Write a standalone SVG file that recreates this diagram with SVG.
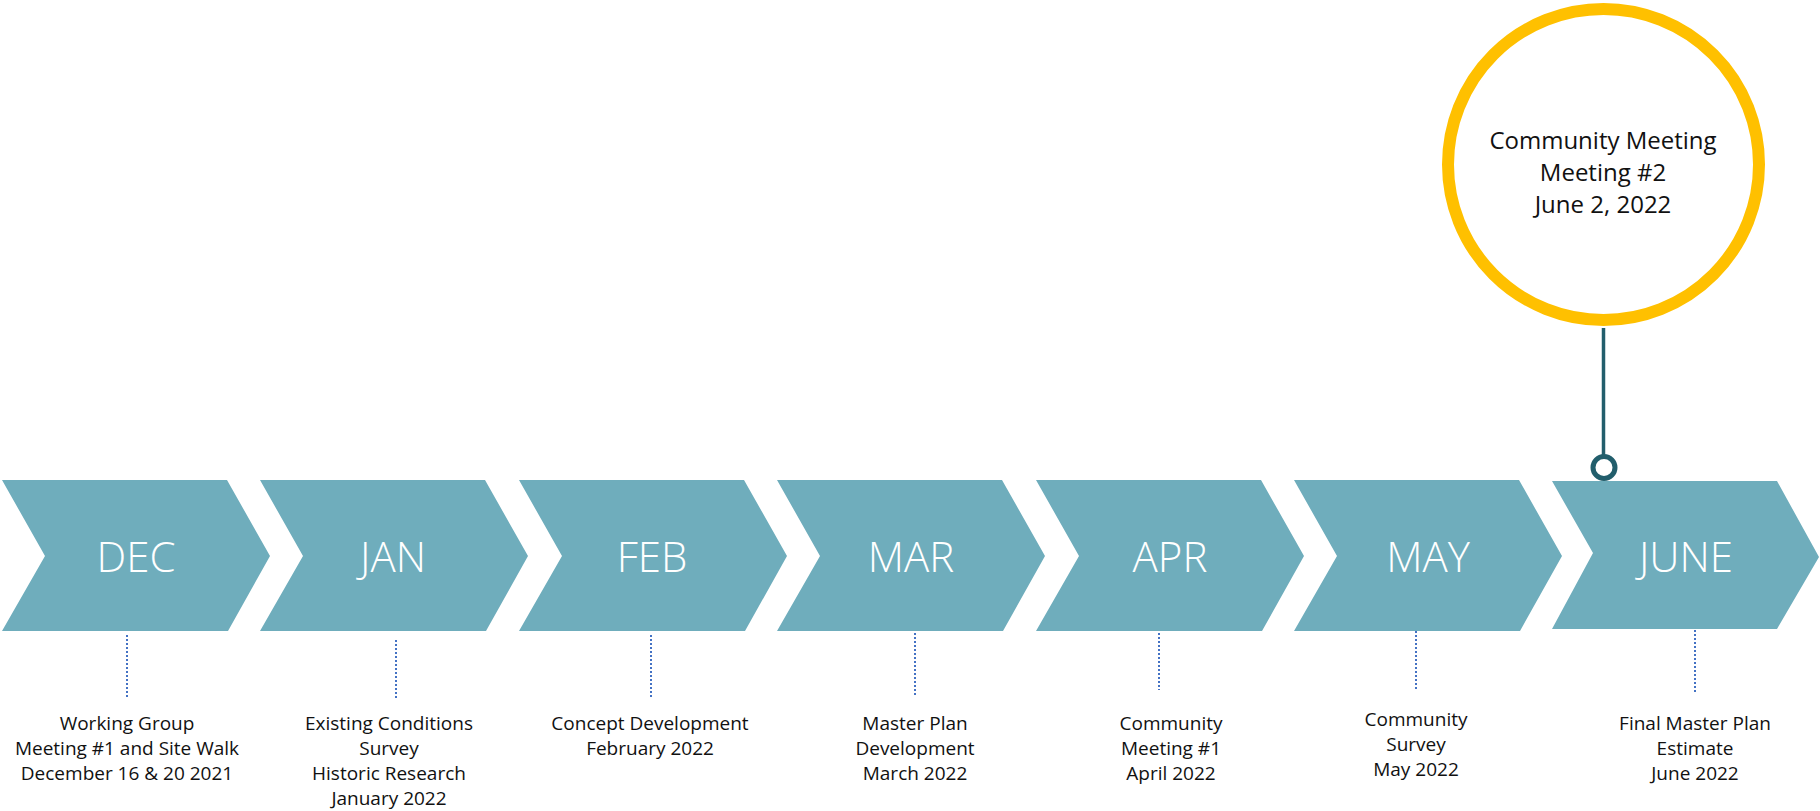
<svg xmlns="http://www.w3.org/2000/svg" width="1820" height="811" viewBox="0 0 1820 811">
<defs>
<style>
.chev{fill:#6FADBC;}
.month{font-family:"Open Sans","Liberation Sans",sans-serif;font-size:42px;fill:#FFFFFF;text-anchor:middle;font-weight:300;}
.lbl{font-family:"Open Sans","Liberation Sans",sans-serif;font-size:19px;fill:#111111;text-anchor:middle;}
.ctext{font-family:"Open Sans","Liberation Sans",sans-serif;font-size:24px;fill:#111111;text-anchor:middle;}
.dot{stroke:#4472C4;stroke-width:2;stroke-dasharray:2 2;fill:none;}
</style>
<polygon id="chevShape" points="0,480 225,480 268,556 226,631 0,631 43,556"/>
</defs>
<rect width="1820" height="811" fill="#FFFFFF"/>

<g id="connectors">
<line class="dot" x1="127" y1="635" x2="127" y2="699"/>
<line class="dot" x1="396" y1="640" x2="396" y2="700"/>
<line class="dot" x1="651" y1="635" x2="651" y2="698"/>
<line class="dot" x1="915" y1="633" x2="915" y2="697"/>
<line class="dot" x1="1159" y1="633" x2="1159" y2="690"/>
<line class="dot" x1="1416" y1="631" x2="1416" y2="689"/>
<line class="dot" x1="1695" y1="630" x2="1695" y2="693"/>
<line x1="1603.5" y1="328" x2="1603.5" y2="456" stroke="#225E6C" stroke-width="3.5"/>
<circle cx="1604" cy="467.5" r="11" fill="#FFFFFF" stroke="#225E6C" stroke-width="5"/>
</g>

<g id="dec">
<use href="#chevShape" class="chev" x="2" y="0"/>
<text class="month" x="136" y="572">DEC</text>
<text class="lbl" x="127" y="730">Working Group</text>
<text class="lbl" x="127" y="755">Meeting #1 and Site Walk</text>
<text class="lbl" x="127" y="780">December 16 &amp; 20 2021</text>
</g>

<g id="jan">
<use href="#chevShape" class="chev" x="260" y="0"/>
<text class="month" x="393" y="572">JAN</text>
<text class="lbl" x="389" y="730">Existing Conditions</text>
<text class="lbl" x="389" y="755">Survey</text>
<text class="lbl" x="389" y="780">Historic Research</text>
<text class="lbl" x="389" y="805">January 2022</text>
</g>

<g id="feb">
<use href="#chevShape" class="chev" x="519" y="0"/>
<text class="month" x="652" y="572">FEB</text>
<text class="lbl" x="650" y="730">Concept Development</text>
<text class="lbl" x="650" y="755">February 2022</text>
</g>

<g id="mar">
<use href="#chevShape" class="chev" x="777" y="0"/>
<text class="month" x="911" y="572">MAR</text>
<text class="lbl" x="915" y="730">Master Plan</text>
<text class="lbl" x="915" y="755">Development</text>
<text class="lbl" x="915" y="780">March 2022</text>
</g>

<g id="apr">
<use href="#chevShape" class="chev" x="1036" y="0"/>
<text class="month" x="1170" y="572">APR</text>
<text class="lbl" x="1171" y="730">Community</text>
<text class="lbl" x="1171" y="755">Meeting #1</text>
<text class="lbl" x="1171" y="780">April 2022</text>
</g>

<g id="may">
<use href="#chevShape" class="chev" x="1294" y="0"/>
<text class="month" x="1428" y="572">MAY</text>
<text class="lbl" x="1416" y="726">Community</text>
<text class="lbl" x="1416" y="751">Survey</text>
<text class="lbl" x="1416" y="776">May 2022</text>
</g>

<g id="june">
<polygon class="chev" points="1552,481 1777,481 1819,557 1777,629 1552,629 1593,553"/>
<text class="month" x="1686" y="572">JUNE</text>
<text class="lbl" x="1695" y="730">Final Master Plan</text>
<text class="lbl" x="1695" y="755">Estimate</text>
<text class="lbl" x="1695" y="780">June 2022</text>
</g>

<g id="meeting2">
<circle cx="1603.5" cy="164.5" r="155.5" fill="#FFFFFF" stroke="#FFC000" stroke-width="12"/>
<text class="ctext" x="1603" y="149">Community Meeting</text>
<text class="ctext" x="1603" y="181">Meeting #2</text>
<text class="ctext" x="1603" y="213">June 2, 2022</text>
</g>
</svg>
